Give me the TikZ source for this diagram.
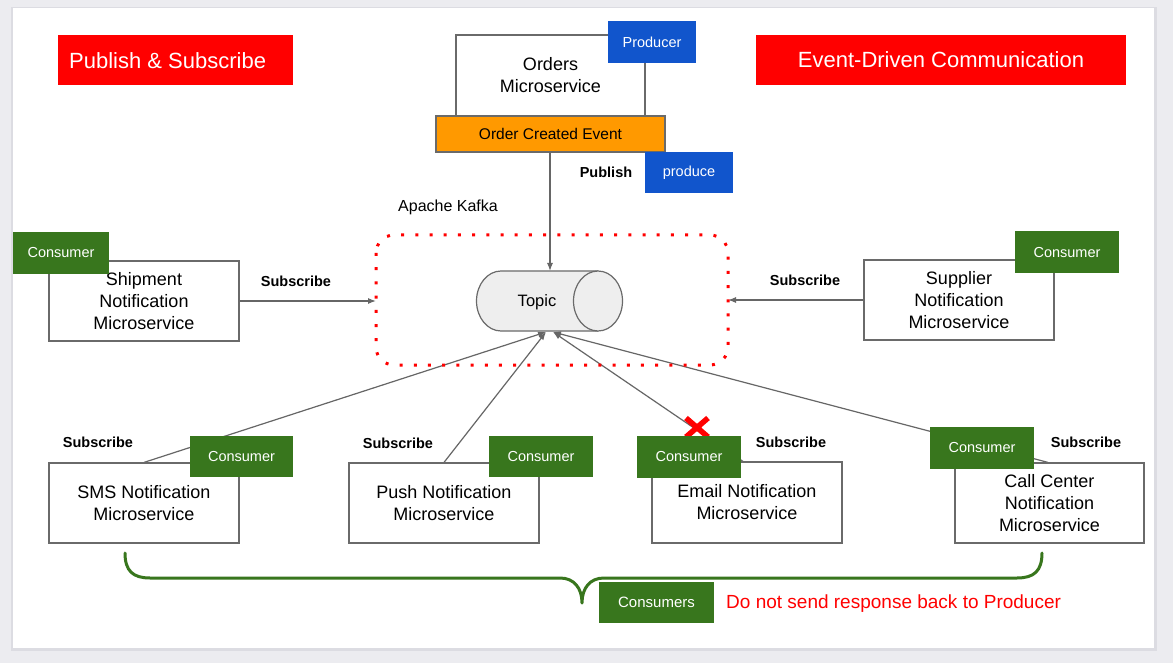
\documentclass[tikz,border=0pt]{standalone}
\usepackage{fontspec}
\setmainfont{Liberation Sans}
\usetikzlibrary{arrows.meta}
\pgfdeclarelayer{bg}\pgfdeclarelayer{edges}
\pgfsetlayers{bg,edges,main}
\definecolor{pagebg}{HTML}{ECECF0}
\definecolor{shadowc}{HTML}{DCDCE2}
\definecolor{tred}{HTML}{FF0000}
\definecolor{tblue}{HTML}{1155CC}
\definecolor{tgreen}{HTML}{38761D}
\definecolor{torange}{HTML}{FF9900}
\definecolor{boxgray}{HTML}{6A6A6A}
\definecolor{linegray}{HTML}{666666}
\definecolor{cylfill}{HTML}{EEEEEE}
\tikzset{
  box/.style={draw=boxgray, line width=1.2pt, fill=white, inner sep=0pt, align=center,
    minimum width=190pt, minimum height=80pt, font=\fontsize{18}{22}\selectfont},
  tag/.style={text=white, inner sep=0pt, font=\fontsize{14.5}{17}\selectfont},
  consumer/.style={tag, fill=tgreen, minimum width=104pt, minimum height=42pt},
  bluetag/.style={tag, fill=tblue, minimum width=88pt, minimum height=42pt},
  title/.style={fill=tred, text=white, inner sep=0pt, minimum height=50pt, font=\fontsize{22}{26}\selectfont},
  lbl/.style={inner sep=0pt, font=\bfseries\fontsize{14.5}{17}\selectfont},
  conn/.style={draw=linegray, line width=1.2pt, -{Latex[length=8pt,width=6pt]}},
}
\begin{document}
\begin{tikzpicture}[x=1pt,y=-1pt]
\useasboundingbox (0,0) rectangle (1173,663);
\begin{pgfonlayer}{bg}
  \fill[pagebg] (0,0) rectangle (1173,663);
  \fill[shadowc] (11,7) rectangle (1157,651);
  \fill[white] (13,8) rectangle (1154,648);
\end{pgfonlayer}

% titles
\node[title, minimum width=235pt] (pubsub) at (175.5,60) {};
\node[inner sep=0pt, anchor=west, text=white, font=\fontsize{22}{26}\selectfont] (pubsubtxt) at (69,61) {Publish \& Subscribe};
\node[title, minimum width=370pt] (edc) at (941,60) {Event-Driven Communication};

% producer side
\node[box, minimum width=189pt, minimum height=81pt] (orders) at (550.5,75.5) {Orders\\Microservice};
\node[bluetag] (producer) at (652,42) {Producer};
\node[draw=boxgray, line width=1.2pt, fill=torange, inner sep=0pt, minimum width=229pt, minimum height=36pt,
      font=\fontsize{15.5}{18}\selectfont] (event) at (550.5,134) {Order Created Event};
\node[bluetag, minimum height=41pt] (produce) at (689,172.5) {produce};
\node[lbl] (publish) at (606,172) {Publish};
\node[inner sep=0pt, font=\fontsize{16}{19}\selectfont] (kafkalbl) at (448,207) {Apache Kafka};

% kafka boundary
\draw[tred, line width=3pt, dash pattern=on 3pt off 11.2pt, rounded corners=18pt]
  (376,235) rectangle (728,365);
\coordinate (kafkaW) at (376,301);
\coordinate (kafkaE) at (728,300);

% topic cylinder
\fill[cylfill] (501,271) -- (598,271) -- (598,331) -- (501,331)
  .. controls (487.47,331) and (476.5,317.57) .. (476.5,301)
  .. controls (476.5,284.43) and (487.47,271) .. (501,271) -- cycle;
\draw[boxgray, line width=1.2pt] (598,271) -- (501,271)
  .. controls (487.47,271) and (476.5,284.43) .. (476.5,301)
  .. controls (476.5,317.57) and (487.47,331) .. (501,331) -- (598,331);
\draw[boxgray, line width=1.2pt, fill=cylfill] (598,301) ellipse [x radius=24.5, y radius=30];
\node[inner sep=0pt, font=\fontsize{16.5}{19}\selectfont] (topic) at (537,302) {Topic};
\coordinate (ttop) at (550,271);
\coordinate (tin1) at (546,332);
\coordinate (tin2) at (553,332);

% side consumers
\node[box] (shipment) at (144,301) {Shipment\\Notification\\Microservice};
\node[consumer, minimum width=96pt] (shipcons) at (61,253) {Consumer};
\node[box] (supplier) at (959,300) {Supplier\\Notification\\Microservice};
\node[consumer] (supcons) at (1067,252.5) {Consumer};
\node[lbl] (subship) at (296,281) {Subscribe};
\node[lbl] (subsup) at (805,280) {Subscribe};

% bottom consumers
\node[box] (sms) at (144,503) {SMS Notification\\Microservice};
\node[consumer, minimum width=103pt, minimum height=41pt] (smscons) at (241.5,456.5) {Consumer};
\node[box] (push) at (444,503) {Push Notification\\Microservice};
\node[consumer, minimum height=41pt] (pushcons) at (541,456.5) {Consumer};
\node[box, minimum height=81pt] (email) at (747,502.5) {Email Notification\\Microservice};
\node[consumer] (emailcons) at (689,457) {Consumer};
\node[box, minimum width=189pt] (call) at (1049.5,503) {Call Center\\Notification\\Microservice};
\node[consumer] (callcons) at (982,448) {Consumer};

\node[lbl] (subsms) at (98,442) {Subscribe};
\node[lbl] (subpush) at (398,443) {Subscribe};
\node[lbl] (subemail) at (791,442) {Subscribe};
\node[lbl] (subcall) at (1086,442) {Subscribe};

% connectors
\begin{pgfonlayer}{edges}
  \draw[conn] (event.south -| ttop) -- (ttop);
  \draw[conn] (shipment.east) -- (kafkaW);
  \draw[conn] (supplier.west) -- (kafkaE);
  \draw[conn] (sms.north) -- (tin1);
  \draw[conn] (push.north) -- (tin1);
  \draw[conn] ([xshift=-4pt]email.north) -- (tin2);
  \draw[conn] ([xshift=-1.5pt]call.north) -- (tin2);
  \draw[tred, line width=5.5pt] (686,418) -- (708,437) (686,437) -- (708,418);
\end{pgfonlayer}

% brace
\draw[tgreen, line width=3pt, line cap=round, line join=round]
  (125,553) .. controls (125,571) and (133,578) .. (150,578) -- (560,578)
  .. controls (574,578) and (582,588) .. (582,603)
  .. controls (582,588) and (590,578) .. (604,578) -- (1017,578)
  .. controls (1034,578) and (1042,571) .. (1042,553);
\node[tag, fill=tgreen, minimum width=115pt, minimum height=41pt, font=\fontsize{15}{18}\selectfont] (consumers) at (656.5,602.5) {Consumers};
\node[inner sep=0pt, anchor=west, text=tred, font=\fontsize{19}{22}\selectfont] (noresp) at (726,604) {Do not send response back to Producer};
\end{tikzpicture}
\end{document}
